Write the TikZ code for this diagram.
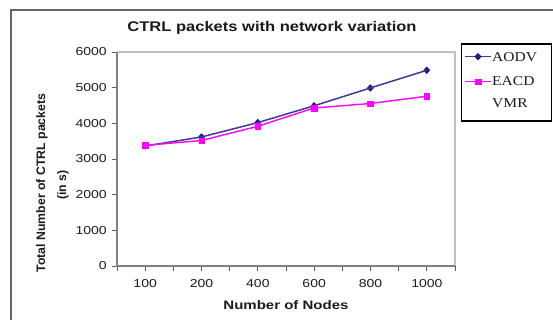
\documentclass[tikz,border=0pt]{standalone}
\usepackage{fontspec}
\setmainfont{Liberation Serif}
\setsansfont{Liberation Sans}
\newfontfamily\chartsans{Liberation Sans}
\usetikzlibrary{shapes.geometric}
\definecolor{navyc}{HTML}{1A1A80}
\definecolor{magc}{HTML}{FF00FF}
\definecolor{axisgray}{HTML}{808080}
\definecolor{bordergray}{HTML}{C0C0C0}
\definecolor{textc}{HTML}{1A1A1A}
\begin{document}
\begin{tikzpicture}[x=1pt,y=1pt,
  frameline/.style={draw=axisgray!80!black,line width=1.3pt},
  axisline/.style={draw=axisgray,line width=1.8pt},
  borderline/.style={draw=bordergray,line width=1.1pt},
  tickline/.style={draw=axisgray!70!black,line width=0.9pt},
  ticklab/.style={font=\chartsans\fontsize{11.5}{13}\selectfont,text=textc,inner sep=0pt,xscale=1.22},
  titlelab/.style={font=\chartsans\bfseries\fontsize{14}{16}\selectfont,text=textc,inner sep=0pt,xscale=1.18},
  axlab/.style={font=\chartsans\bfseries\fontsize{12.3}{14}\selectfont,text=textc,inner sep=0pt},
  leglab/.style={font=\fontsize{13.5}{22}\selectfont,text=textc,inner sep=0pt,xscale=1.15,align=left},
  aodvpt/.style={shape=diamond,fill=navyc,draw=navyc,inner sep=0pt,minimum width=6.5pt,minimum height=7pt},
  eacdpt/.style={shape=rectangle,fill=magc,draw=magc,inner sep=0pt,minimum size=5.5pt},
  aodvline/.style={draw=navyc!85!white,line width=1.5pt},
  eacdline/.style={draw=magc,line width=1.4pt}]
\useasboundingbox (0,0) rectangle (553,-320);
% outer frame
\coordinate (fTL) at (11,-10);
\coordinate (fTR) at (553,-10);
\coordinate (fBL) at (11,-320);
\draw[frameline] (fBL) -- (fTL) -- (fTR);
% title
\node[titlelab] (title) at (272,-28) {CTRL packets with network variation};
% plot area
\coordinate (pBL) at (117,-266);
\coordinate (pTL) at (117,-52);
\coordinate (pTR) at (455,-52);
\coordinate (pBR) at (455,-266);
\draw[borderline] (pTL) -- (pTR) -- (pBR);
% y ticks and labels
\foreach \v/\lab in {0/0,1/1000,2/2000,3/3000,4/4000,5/5000,6/6000}{
  \coordinate (yt\v) at (117,{-266+35.67*\v});
  \coordinate (ys\v) at (111.5,{-266+35.67*\v});
  \draw[tickline] (ys\v) -- (yt\v);
  \node[ticklab,anchor=east] (yl\v) at (107,{-266+35.67*\v}) {\lab};
}
% x ticks
\foreach \k in {0,...,12}{
  \coordinate (xt\k) at ({117+28.17*\k},-266);
  \coordinate (xs\k) at ({117+28.17*\k},-270.5);
  \draw[tickline] (xt\k) -- (xs\k);
}
\draw[axisline] (pTL) -- (pBL) -- (pBR);
% x labels
\foreach \i/\lab in {0/100,1/200,2/400,3/600,4/800,5/1000}{
  \node[ticklab] (xl\i) at ({145.2+56.33*\i},-283.5) {\lab};
}
% axis titles
\node[axlab,xscale=1.22] (xtitle) at (286,-305) {Number of Nodes};
\node[axlab,rotate=90] (ytitle1) at (42,-183) {Total Number of CTRL packets};
\node[axlab,rotate=90] (ytitle2) at (63,-185) {(in s)};
% AODV data
\node[aodvpt] (a1) at (145.2,-146.0) {};
\node[aodvpt] (a2) at (201.5,-137.0) {};
\node[aodvpt] (a3) at (257.8,-122.6) {};
\node[aodvpt] (a4) at (314.0,-105.8) {};
\node[aodvpt] (a5) at (370.3,-88.0) {};
\node[aodvpt] (a6) at (426.7,-70.3) {};
\draw[aodvline] (a1.center) -- (a2.center) -- (a3.center) -- (a4.center) -- (a5.center) -- (a6.center);
% EACD VMR data
\node[eacdpt] (e1) at (145.2,-145.4) {};
\node[eacdpt] (e2) at (201.5,-140.5) {};
\node[eacdpt] (e3) at (257.8,-126.3) {};
\node[eacdpt] (e4) at (314.0,-108.0) {};
\node[eacdpt] (e5) at (370.3,-103.5) {};
\node[eacdpt] (e6) at (426.7,-96.3) {};
\draw[eacdline] (e1.center) -- (e2.center) -- (e3.center) -- (e4.center) -- (e5.center) -- (e6.center);
% legend
\node[draw=black,line width=1.5pt,minimum width=90pt,minimum height=77pt,inner sep=0pt,anchor=north west] (legend) at (460.5,-43.5) {};
\coordinate (la1) at (465,-56.7);
\coordinate (la2) at (491,-56.7);
\draw[aodvline] (la1) -- (la2);
\node[aodvpt] (lam) at (478,-56.7) {};
\node[leglab,anchor=west] (lat) at (492,-57.5) {AODV};
\coordinate (le1) at (465,-81.7);
\coordinate (le2) at (491,-81.7);
\draw[eacdline] (le1) -- (le2);
\node[eacdpt] (lem) at (478,-81.7) {};
\node[leglab,anchor=north west] (let) at (492,-76) {EACD\\[0.5pt]VMR};
\end{tikzpicture}
\end{document}
